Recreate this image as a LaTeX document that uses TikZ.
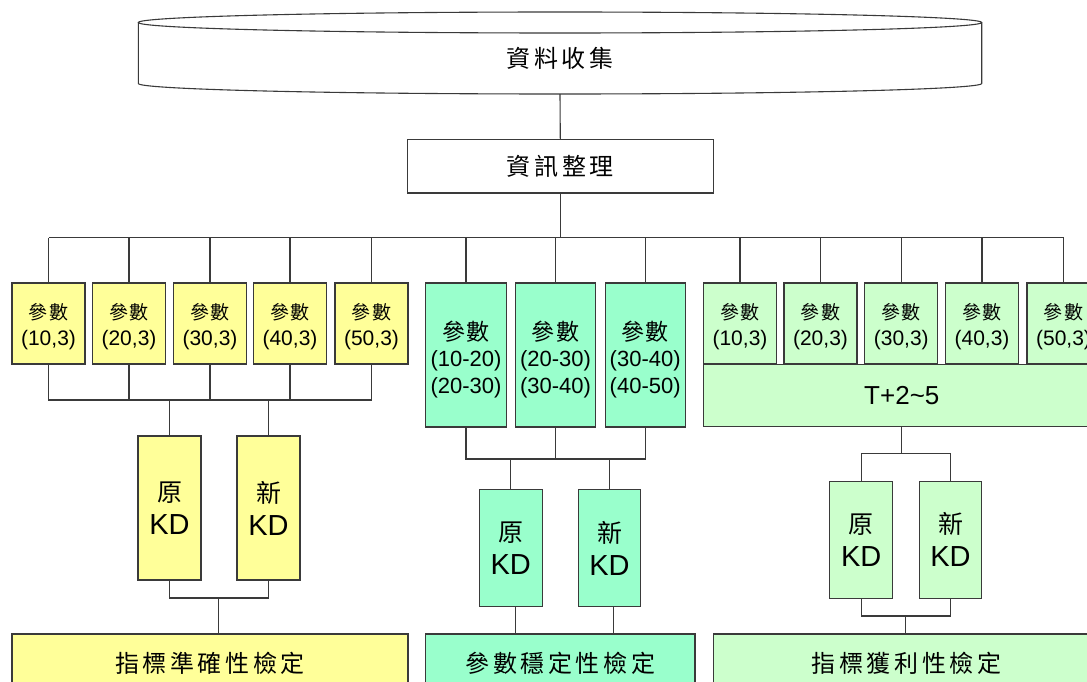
\documentclass[tikz,border=0pt]{standalone}
\usepackage{fontspec}
\setmainfont{Liberation Sans}
\newfontfamily\cjk{Noto Sans CJK TC}
\newfontfamily\cjkw[LetterSpace=15]{Noto Sans CJK TC}
\newfontfamily\cjkm[LetterSpace=6]{Noto Sans CJK TC}
\definecolor{ylw}{HTML}{FFFF99}
\definecolor{mint}{HTML}{99FFCC}
\definecolor{lgrn}{HTML}{CCFFCC}
\definecolor{edgec}{HTML}{3A3A3A}
\begin{document}
\begin{tikzpicture}[x=1pt,y=-1pt,
  conn/.style={draw=edgec,line width=1.1pt},
  box/.style={draw=edgec,line width=1.1pt,rectangle,inner sep=0pt,align=center},
  smallbox/.style={box,minimum width=73pt,minimum height=81pt,
    font=\fontsize{21}{26}\selectfont},
  tallbox/.style={box,fill=mint,minimum width=80.3pt,minimum height=144pt,
    font=\fontsize{22}{26.5}\selectfont},
  kdbox/.style={box,minimum width=63pt,font=\fontsize{29}{33}\selectfont},
  bigbox/.style={box,minimum height=58pt}]
\useasboundingbox (0,0) rectangle (1087,682);
\clip (0,0) rectangle (1087,682);

% cylinder
\fill[white] (138.3,22.5) -- (138.3,83.5) arc[start angle=180,end angle=0,x radius=421.7,y radius=10.5] -- (981.7,22.5) -- cycle;
\draw[conn] (138.3,22.5) -- (138.3,83.5) arc[start angle=180,end angle=0,x radius=421.7,y radius=10.5] -- (981.7,22.5);
\draw[conn] (560,22.5) ellipse [x radius=421.7, y radius=10.5];
\node[inner sep=0pt,minimum width=843.4pt,minimum height=71pt,font=\cjkw\fontsize{24}{28}\selectfont] (collect) at (560,58.5) {資料收集};

\node[box,minimum width=306pt,minimum height=53.3pt,font=\cjkw\fontsize{24}{28}\selectfont] (info) at (560.3,166.3) {資訊整理};

% yellow group
\foreach \n/\x/\t in {y1/48.5/{(10,3)},y2/129/{(20,3)},y3/210/{(30,3)},y4/290/{(40,3)},y5/371.5/{(50,3)}}
  \node[smallbox,fill=ylw] (\n) at (\x,323.5) {\rule{0pt}{22pt}{\cjkm\fontsize{19}{26}\selectfont 參數}\\\t};
\node[kdbox,fill=ylw,minimum height=144pt] (yk1) at (169.5,508) {{\cjk\fontsize{25}{33}\selectfont 原}\\KD};
\node[kdbox,fill=ylw,minimum height=144pt] (yk2) at (268.5,508) {{\cjk\fontsize{25}{33}\selectfont 新}\\KD};
\node[bigbox,fill=ylw,minimum width=396pt,font=\cjkw\fontsize{24}{28}\selectfont] (ybot) at (210,663) {指標準確性檢定};

% mint group
\node[tallbox] (m1) at (466,355) {\rule{0pt}{28pt}{\cjkm\fontsize{23}{27}\selectfont 參數}\\(10-20)\\(20-30)};
\node[tallbox] (m2) at (555.5,355) {\rule{0pt}{28pt}{\cjkm\fontsize{23}{27}\selectfont 參數}\\(20-30)\\(30-40)};
\node[tallbox] (m3) at (645.2,355) {\rule{0pt}{28pt}{\cjkm\fontsize{23}{27}\selectfont 參數}\\(30-40)\\(40-50)};
\node[kdbox,fill=mint,minimum height=117pt] (mk1) at (510.7,548.2) {{\cjk\fontsize{25}{33}\selectfont 原}\\KD};
\node[kdbox,fill=mint,minimum width=61.6pt,minimum height=117pt] (mk2) at (609.5,548.2) {{\cjk\fontsize{25}{33}\selectfont 新}\\KD};
\node[bigbox,fill=mint,minimum width=269.3pt,font=\cjkw\fontsize{24}{28}\selectfont] (mbot) at (560.3,663) {參數穩定性檢定};

% light green group
\foreach \n/\x/\t in {r1/740/{(10,3)},r2/820.5/{(20,3)},r3/901.3/{(30,3)},r4/982/{(40,3)},r5/1063.5/{(50,3)}}
  \node[smallbox,fill=lgrn] (\n) at (\x,323.5) {\rule{0pt}{22pt}{\cjkm\fontsize{19}{26}\selectfont 參數}\\\t};
\node[box,fill=lgrn,minimum width=397pt,minimum height=62.4pt,font=\fontsize{26}{30}\selectfont] (T) at (901.8,395.5) {T+2\textasciitilde5};
\node[kdbox,fill=lgrn,minimum height=116.7pt] (rk1) at (861.2,539.7) {{\cjk\fontsize{25}{33}\selectfont 原}\\KD};
\node[kdbox,fill=lgrn,minimum width=62.4pt,minimum height=116.7pt] (rk2) at (950.5,539.7) {{\cjk\fontsize{25}{33}\selectfont 新}\\KD};
\node[bigbox,fill=lgrn,minimum width=386.7pt,font=\cjkw\fontsize{24}{28}\selectfont] (rbot) at (906.6,663) {指標獲利性檢定};

% top connectors
\coordinate (bus) at (560.3,237.7);
\draw[conn] (collect.south) -- (info.north);
\draw[conn] (info.south) -- (bus);
\draw[conn] (y1.north |- bus) -- (r5.north |- bus);
\foreach \n in {y1,y2,y3,y4,y5,m1,m2,m3,r1,r2,r3,r4,r5}
  \draw[conn] (\n.north) -- (\n.north |- bus);

% yellow connectors
\coordinate (ybus) at (210,400);
\draw[conn] (y1.south) |- (ybus) -| (y5.south);
\foreach \n in {y2,y3,y4} \draw[conn] (\n.south) -- (\n.south |- ybus);
\foreach \n in {yk1,yk2} \draw[conn] (\n.north) -- (\n.north |- ybus);
\coordinate (ybus2) at (218.5,598);
\draw[conn] (yk1.south) |- (ybus2) -| (yk2.south);
\draw[conn] (ybus2) -- (ybus2 |- ybot.north);

% mint connectors
\coordinate (mbus) at (556,459);
\draw[conn] (m1.south) |- (mbus) -| (m3.south);
\draw[conn] (m2.south) -- (m2.south |- mbus);
\foreach \n in {mk1,mk2} \draw[conn] (\n.north) -- (\n.north |- mbus);
\draw[conn] ([xshift=5pt]mk1.south) -- ([xshift=5pt]mk1.south |- mbot.north);
\draw[conn] ([xshift=4pt]mk2.south) -- ([xshift=4pt]mk2.south |- mbot.north);

% light green connectors
\coordinate (rbus) at (901.3,453.3);
\draw[conn] (T.south -| rbus) -- (rbus);
\draw[conn] (rk1.north) |- (rbus) -| (rk2.north);
\coordinate (rbus2) at (905.3,616);
\draw[conn] (rk1.south) |- (rbus2) -| (rk2.south);
\draw[conn] (rbus2) -- (rbus2 |- rbot.north);
\end{tikzpicture}
\end{document}
